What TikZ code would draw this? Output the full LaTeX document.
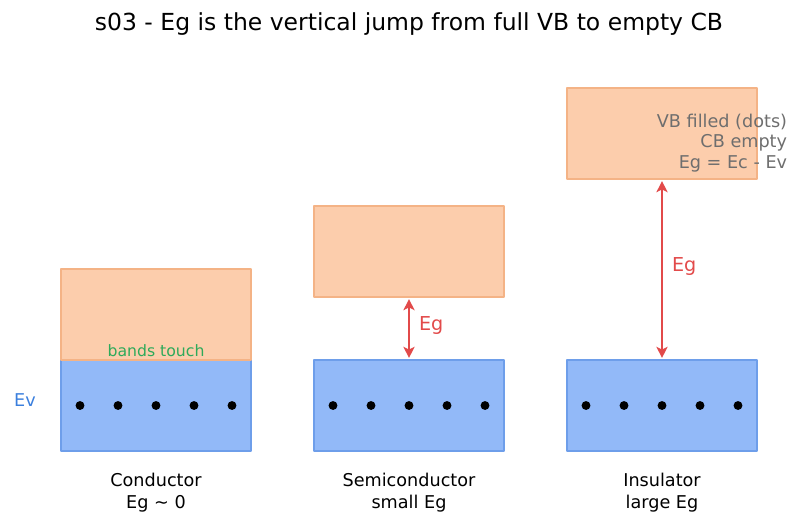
\documentclass[tikz,border=0pt]{standalone}
\usepackage{fontspec}
\setmainfont{DejaVu Sans}
\usetikzlibrary{arrows.meta}
\definecolor{cbfill}{HTML}{FCCDAC}
\definecolor{cbedge}{HTML}{F4B386}
\definecolor{vbfill}{HTML}{92B9F8}
\definecolor{vbedge}{HTML}{6E9EEA}
\definecolor{gapred}{HTML}{E24A4A}
\definecolor{touchgreen}{HTML}{2EAA5A}
\definecolor{notegray}{HTML}{6E6E6E}
\definecolor{evblue}{HTML}{3B7FDD}
\begin{document}
\begin{tikzpicture}[x=0.72pt, y=-0.72pt, line join=round, >={Stealth[length=8pt,width=8pt,inset=2pt]},
	band/.style={draw, line width=0.9pt, minimum width=136.8pt, minimum height=65.5pt, inner sep=0pt, outer sep=0pt},
	cbband/.style={band, fill=cbfill, draw=cbedge},
	vbband/.style={band, fill=vbfill, draw=vbedge},
	gap/.style={<->, gapred, line width=1.8pt, shorten <=1.5pt, shorten >=1.5pt},
	label style/.style={font=\fontsize{12.7}{16}\selectfont, align=center}]
	\useasboundingbox (0,0) rectangle (802,526);
	\node[font=\fontsize{16.9}{20}\selectfont] (title) at (409,24) {s03 - Eg is the vertical jump from full VB to empty CB};
	% bands
	\node[vbband] (cvb) at (156,405.5) {};
	\node[cbband] (ccb) at (156,314.5) {};
	\node[vbband] (svb) at (409,405.5) {};
	\node[cbband] (scb) at (409,251.5) {};
	\node[vbband] (ivb) at (662,405.5) {};
	\node[cbband] (icb) at (662,133.5) {};
	% electrons in the valence bands
	\foreach \b in {c,s,i}
		\foreach \k in {-2,...,2}
			\fill (\b vb) ++(38*\k,0) circle (3.2pt);
	% gaps
	\draw[gap] (scb.south) -- (svb.north) node[midway, right=3pt, yshift=2.2pt, text=gapred, font=\fontsize{13.8}{16}\selectfont] (seg) {Eg};
	\draw[gap] (icb.south) -- (ivb.north) node[midway, right=3pt, yshift=2.2pt, text=gapred, font=\fontsize{13.8}{16}\selectfont] (ieg) {Eg};
	\node[text=touchgreen, font=\fontsize{11.3}{13}\selectfont] (touch) at (156,351) {bands touch};
	\node[text=evblue, font=\fontsize{12.7}{15}\selectfont] (ev) at (25,400) {Ev};
	\node[text=notegray, align=right, anchor=east, font=\fontsize{12.7}{14.8}\selectfont] (note) at (792,143) {VB filled (dots)\\CB empty\\Eg = Ec - Ev};
	% captions
	\node[label style] (clab) at (156,493) {Conductor\\Eg \textasciitilde{} 0};
	\node[label style] (slab) at (409,493) {Semiconductor\\small Eg};
	\node[label style] (ilab) at (662,493) {Insulator\\large Eg};
\end{tikzpicture}
\end{document}
